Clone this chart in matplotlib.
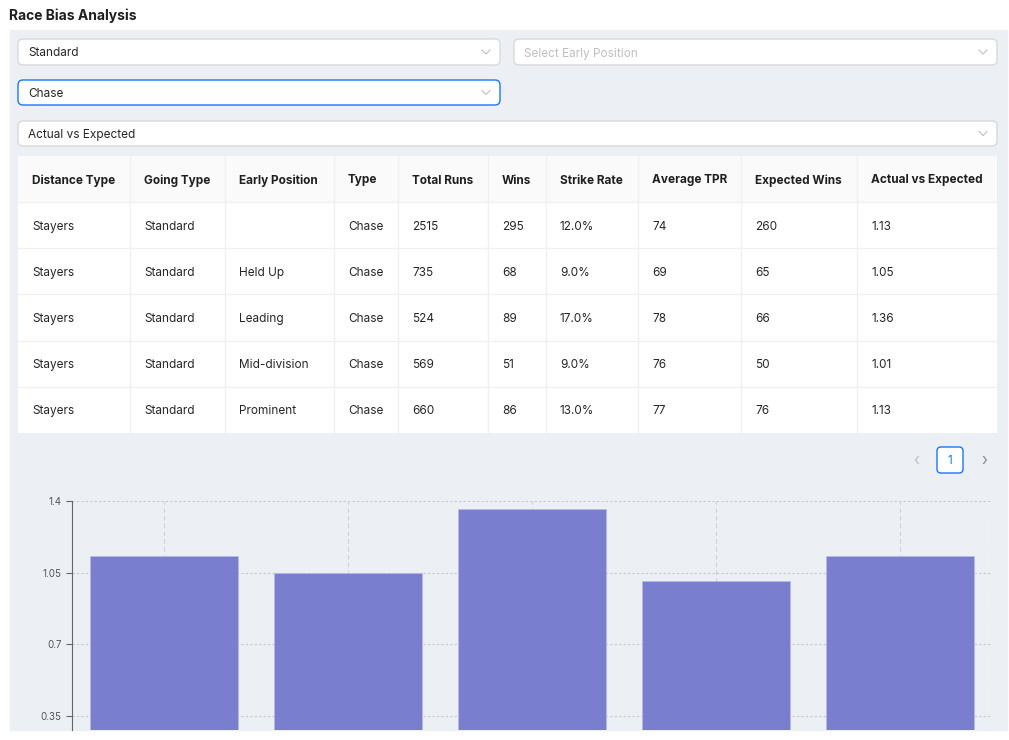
import matplotlib
matplotlib.use("Agg")
import matplotlib.pyplot as plt
from matplotlib.patches import FancyBboxPatch, Rectangle

plt.rcParams['font.family'] = ['Inter', 'DejaVu Sans']

columns = ["Distance Type", "Going Type", "Early Position", "Type", "Total Runs", "Wins",
           "Strike Rate", "Average TPR", "Expected Wins", "Actual vs Expected"]
distance = ["Stayers"] * 5
going = ["Standard"] * 5
early = ["", "Held Up", "Leading", "Mid-division", "Prominent"]
rtype = ["Chase"] * 5
runs = [2515, 735, 524, 569, 660]
wins = [295, 68, 89, 51, 86]
strike = ["12.0%", "9.0%", "17.0%", "9.0%", "13.0%"]
tpr = [74, 69, 78, 76, 77]
expected = [260, 65, 66, 50, 76]
ave = [1.13, 1.05, 1.36, 1.01, 1.13]
yticks = [0.35, 0.7, 1.05, 1.4]

W, H = 1009, 740
fig = plt.figure(figsize=(W/100, H/100), dpi=100)
ui = fig.add_axes([0, 0, 1, 1])
ui.set_xlim(0, W); ui.set_ylim(H, 0); ui.axis('off')

ui.add_patch(Rectangle((10, 30), 997, 700, color='#ECEFF3', zorder=0))
ui.text(9, 14, "Race Bias Analysis", fontsize=10, fontweight='bold', va='center_baseline', color='#1f1f1f')

def box(x0, y0, x1, y1, label, color='#262626', edge='#d9d9d9'):
    ui.add_patch(FancyBboxPatch((x0, y0), x1-x0, y1-y0, boxstyle="round,pad=0,rounding_size=5",
                                fc='white', ec=edge, lw=1, zorder=2))
    ui.text(x0+10, (y0+y1)/2, label, fontsize=8.5, va='center_baseline', color=color, zorder=3)
    ui.plot([x1-18, x1-14, x1-10], [(y0+y1)/2-2, (y0+y1)/2+2, (y0+y1)/2-2], color='#bfbfbf', lw=0.8, zorder=3)

box(18, 39, 500, 65, "Standard")
box(514, 39, 997, 65, "Select Early Position", color='#bfbfbf')
box(18, 80, 500, 105, "Chase", edge='#1677ff')
box(18, 121, 997, 146, "Actual vs Expected")

# table
xs = [18, 130, 225, 334, 398, 488, 546, 638, 741, 857, 997]
top, hh, rh = 156, 46, 46.2
ui.add_patch(Rectangle((18, top), 979, hh, fc='#FAFAFA', ec='none', zorder=1))
ui.add_patch(Rectangle((18, top+hh), 979, rh*5, fc='white', ec='none', zorder=1))
for x in xs[1:-1]:
    ui.plot([x, x], [top, top+hh+rh*5], color='#f0f0f0', lw=1, zorder=2)
for i in range(1, 6):
    ui.plot([18, 997], [top+hh+rh*(i-1)]*2, color='#f0f0f0', lw=1, zorder=2)
for j, c in enumerate(columns):
    ui.text(xs[j]+14, top+hh/2, c, fontsize=8.5, fontweight='bold', va='center_baseline', color='#1f1f1f', zorder=3)
rows = list(zip(distance, going, early, rtype, runs, wins, strike, tpr, expected, [f"{v:.2f}" for v in ave]))
for i, r in enumerate(rows):
    yc = top+hh+rh*i+rh/2
    for j, v in enumerate(r):
        ui.text(xs[j]+14, yc, str(v), fontsize=8.5, va='center_baseline', color='#262626', zorder=3)

# pagination
ui.add_patch(FancyBboxPatch((937, 447), 26, 26, boxstyle="round,pad=0,rounding_size=4",
                            fc='white', ec='#1677ff', lw=1, zorder=2))
ui.text(950, 460.5, "1", fontsize=8.5, ha='center', va='center', color='#1677ff', zorder=3)
ui.text(916, 460, "‹", fontsize=11, ha='center', va='center', color='#bfbfbf')
ui.text(984, 460, "›", fontsize=11, ha='center', va='center', color='#8c8c8c')

# chart
x0, x1, ytop, ybot = 72, 992, 501, 730
ax = fig.add_axes([x0/W, 1-ybot/H, (x1-x0)/W, (ybot-ytop)/H])
ax.patch.set_alpha(0)
cats = list(range(len(ave)))
ax.bar(cats, ave, width=0.8, color='#7a7ecf', edgecolor='#b7b9e6', linewidth=0.6, zorder=3)
ax.set_xlim(-0.5, len(ave)-0.5)
lo = 0.35 - (730-716)/71.5*0.35
ax.set_ylim(lo, 1.4)
ax.set_yticks(yticks)
ax.set_yticklabels([f"{v:g}" for v in yticks], fontsize=7, color='#555')
ax.set_xticks([])
ax.tick_params(axis='y', length=4, color='#666', width=0.8)
for s in ['top', 'right', 'bottom']:
    ax.spines[s].set_visible(False)
ax.spines['left'].set_color('#666'); ax.spines['left'].set_linewidth(0.8)
for v in yticks:
    ax.axhline(v, color='#c8c8c8', lw=0.8, ls=(0, (2, 2)), zorder=1)
for c in cats:
    ax.axvline(c, color='#d0d0d0', lw=0.8, ls=(0, (4, 3)), zorder=1)
ax.axvline(len(ave)-0.5, color='#d0d0d0', lw=0.8, ls=(0, (4, 3)), zorder=1)

fig.savefig("out.png", dpi=100)
